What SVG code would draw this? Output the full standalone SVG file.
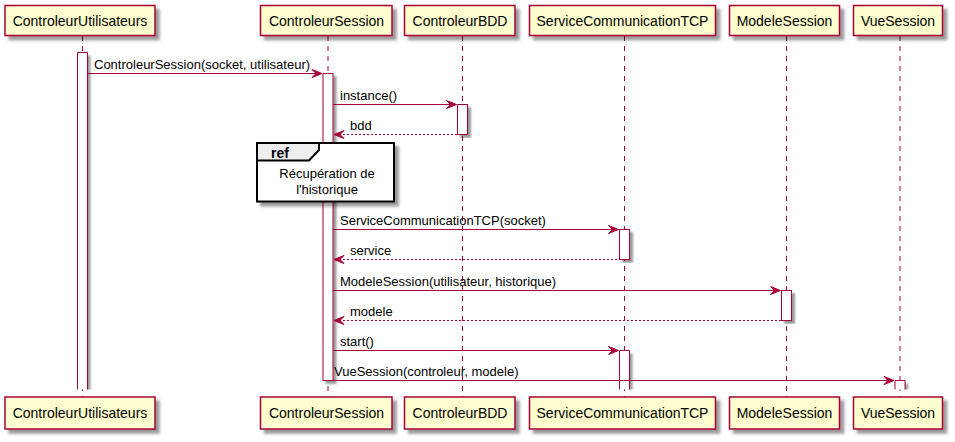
<svg xmlns="http://www.w3.org/2000/svg" width="955" height="442" viewBox="0 0 955 442">
<defs>
<filter id="sh" x="-10%" y="-10%" width="130%" height="140%">
<feGaussianBlur in="SourceAlpha" stdDeviation="1.7" result="b"/>
<feOffset in="b" dx="4" dy="4" result="o"/>
<feComponentTransfer in="o" result="s"><feFuncA type="linear" slope="0.4"/></feComponentTransfer>
<feMerge><feMergeNode in="s"/><feMergeNode in="SourceGraphic"/></feMerge>
</filter>
<filter id="shb" x="-30%" y="-5%" width="200%" height="115%">
<feGaussianBlur in="SourceAlpha" stdDeviation="1.2" result="b"/>
<feOffset in="b" dx="3" dy="3" result="o"/>
<feComponentTransfer in="o" result="s"><feFuncA type="linear" slope="0.4"/></feComponentTransfer>
<feMerge><feMergeNode in="s"/><feMergeNode in="SourceGraphic"/></feMerge>
</filter>
<clipPath id="clipAct"><rect x="0" y="0" width="955" height="389.5"/></clipPath>
</defs>
<style>
.box{fill:#FEFECE;stroke:#A80036;stroke-width:1.5;}
.pt{font-family:"Liberation Sans",Arial,sans-serif;font-size:14px;fill:#000;text-anchor:middle;}
.life{stroke:#A80036;stroke-width:1;stroke-dasharray:5,5;fill:none;}
.act{fill:#FFFFFF;stroke:#A80036;stroke-width:1;}
.actf{fill:#FFFFFF;stroke:none;}
.msg{stroke:#A80036;stroke-width:1;fill:none;}
.ret{stroke:#A80036;stroke-width:1;fill:none;stroke-dasharray:2,2;}
.head{fill:#A80036;stroke:#A80036;stroke-width:1;}
.mt{font-family:"Liberation Sans",Arial,sans-serif;font-size:13px;fill:#000;}
.ref{fill:#FFFFFF;stroke:#000;stroke-width:2;}
.reft{fill:#EEEEEE;stroke:#000;stroke-width:2;}
.rt{font-family:"Liberation Sans",Arial,sans-serif;font-size:13px;fill:#000;text-anchor:middle;}
</style>
<g id="lifelines">
<line class="life" x1="82.5" y1="36" x2="82.5" y2="397"/>
<line class="life" x1="328" y1="36" x2="328" y2="397"/>
<line class="life" x1="462.5" y1="36" x2="462.5" y2="397"/>
<line class="life" x1="624.5" y1="36" x2="624.5" y2="397"/>
<line class="life" x1="786.5" y1="36" x2="786.5" y2="397"/>
<line class="life" x1="900" y1="36" x2="900" y2="397"/>
</g>
<g id="p-ControleurUtilisateurs">
<rect class="box" filter="url(#sh)" x="5" y="5.5" width="150" height="30"/>
<text class="pt" x="80" y="25.5">ControleurUtilisateurs</text>
<rect class="box" filter="url(#sh)" x="5" y="397" width="150" height="32"/>
<text class="pt" x="80" y="418">ControleurUtilisateurs</text>
</g>
<g id="p-ControleurSession">
<rect class="box" filter="url(#sh)" x="260.5" y="5.5" width="131.5" height="30"/>
<text class="pt" x="326.5" y="25.5">ControleurSession</text>
<rect class="box" filter="url(#sh)" x="260.5" y="397" width="131.5" height="32"/>
<text class="pt" x="326.5" y="418">ControleurSession</text>
</g>
<g id="p-ControleurBDD">
<rect class="box" filter="url(#sh)" x="404.5" y="5.5" width="110.5" height="30"/>
<text class="pt" x="460" y="25.5">ControleurBDD</text>
<rect class="box" filter="url(#sh)" x="404.5" y="397" width="110.5" height="32"/>
<text class="pt" x="460" y="418">ControleurBDD</text>
</g>
<g id="p-ServiceCommunicationTCP">
<rect class="box" filter="url(#sh)" x="529.5" y="5.5" width="186" height="30"/>
<text class="pt" x="622.5" y="25.5">ServiceCommunicationTCP</text>
<rect class="box" filter="url(#sh)" x="529.5" y="397" width="186" height="32"/>
<text class="pt" x="622.5" y="418">ServiceCommunicationTCP</text>
</g>
<g id="p-ModeleSession">
<rect class="box" filter="url(#sh)" x="729.5" y="5.5" width="110" height="30"/>
<text class="pt" x="784.5" y="25.5">ModeleSession</text>
<rect class="box" filter="url(#sh)" x="729.5" y="397" width="110" height="32"/>
<text class="pt" x="784.5" y="418">ModeleSession</text>
</g>
<g id="p-VueSession">
<rect class="box" filter="url(#sh)" x="853.5" y="5.5" width="89" height="30"/>
<text class="pt" x="898" y="25.5">VueSession</text>
<rect class="box" filter="url(#sh)" x="853.5" y="397" width="89" height="32"/>
<text class="pt" x="898" y="418">VueSession</text>
</g>
<g id="activations">
<g clip-path="url(#clipAct)">
<rect class="actf" filter="url(#shb)" x="77.5" y="52.5" width="10" height="345"/>
<rect class="actf" filter="url(#shb)" x="619.5" y="350.5" width="10" height="47"/>
<rect class="actf" filter="url(#shb)" x="895" y="380.5" width="10" height="17"/>
</g>
<path class="msg" d="M77.5,389.5 V52.5 H87.5 V389.5"/>
<path class="msg" d="M619.5,389.5 V350.5 H629.5 V389.5"/>
<path class="msg" d="M895,389.5 V380.5 H905 V389.5"/>
<rect class="act" filter="url(#shb)" x="323" y="73.5" width="10" height="307"/>
<rect class="act" filter="url(#shb)" x="457.5" y="104.5" width="10" height="30"/>
<rect class="act" filter="url(#shb)" x="619.5" y="229.5" width="10" height="30"/>
<rect class="act" filter="url(#shb)" x="781.5" y="290.5" width="10" height="30"/>
</g>
<g id="ref-Recuperation">
<rect class="ref" filter="url(#sh)" x="257" y="143" width="137" height="58.5"/>
<polygon class="reft" points="257,143 319,143 319,150 309,160.5 257,160.5"/>
<text x="271" y="157.5" style="font-family:'Liberation Sans',Arial,sans-serif;font-size:14px;font-weight:bold;fill:#000">ref</text>
<text class="rt" x="327" y="178">Récupération de</text>
<text class="rt" x="327" y="194">l'historique</text>
</g>
<g id="connectors">
<line class="msg" x1="87.5" y1="73.5" x2="321" y2="73.5"/>
<polygon class="head" points="312,69.5 322,73.5 312,77.5 316,73.5"/>
<text class="mt" x="94" y="68.5">ControleurSession(socket, utilisateur)</text>

<line class="msg" x1="333" y1="104.5" x2="455" y2="104.5"/>
<polygon class="head" points="446.5,100.5 456.5,104.5 446.5,108.5 450.5,104.5"/>
<text class="mt" x="340" y="99.5">instance()</text>

<line class="ret" x1="335" y1="134.5" x2="457.5" y2="134.5"/>
<polygon class="head" points="344,130.5 334,134.5 344,138.5 340,134.5"/>
<text class="mt" x="350" y="129.5">bdd</text>

<line class="msg" x1="333" y1="229.5" x2="617" y2="229.5"/>
<polygon class="head" points="608.5,225.5 618.5,229.5 608.5,233.5 612.5,229.5"/>
<text class="mt" x="340" y="224.5">ServiceCommunicationTCP(socket)</text>

<line class="ret" x1="335" y1="259.5" x2="619.5" y2="259.5"/>
<polygon class="head" points="344,255.5 334,259.5 344,263.5 340,259.5"/>
<text class="mt" x="350" y="254.5">service</text>

<line class="msg" x1="333" y1="290.5" x2="779" y2="290.5"/>
<polygon class="head" points="770.5,286.5 780.5,290.5 770.5,294.5 774.5,290.5"/>
<text class="mt" x="340" y="285.5">ModeleSession(utilisateur, historique)</text>

<line class="ret" x1="335" y1="320.5" x2="781.5" y2="320.5"/>
<polygon class="head" points="344,316.5 334,320.5 344,324.5 340,320.5"/>
<text class="mt" x="350" y="315.5">modele</text>

<line class="msg" x1="333" y1="350.5" x2="617" y2="350.5"/>
<polygon class="head" points="608.5,346.5 618.5,350.5 608.5,354.5 612.5,350.5"/>
<text class="mt" x="340" y="345.5">start()</text>

<line class="msg" x1="333" y1="380.5" x2="893" y2="380.5"/>
<polygon class="head" points="884,376.5 894,380.5 884,384.5 888,380.5"/>
<text class="mt" x="334" y="375.5">VueSession(controleur, modele)</text>
</g>
</svg>
